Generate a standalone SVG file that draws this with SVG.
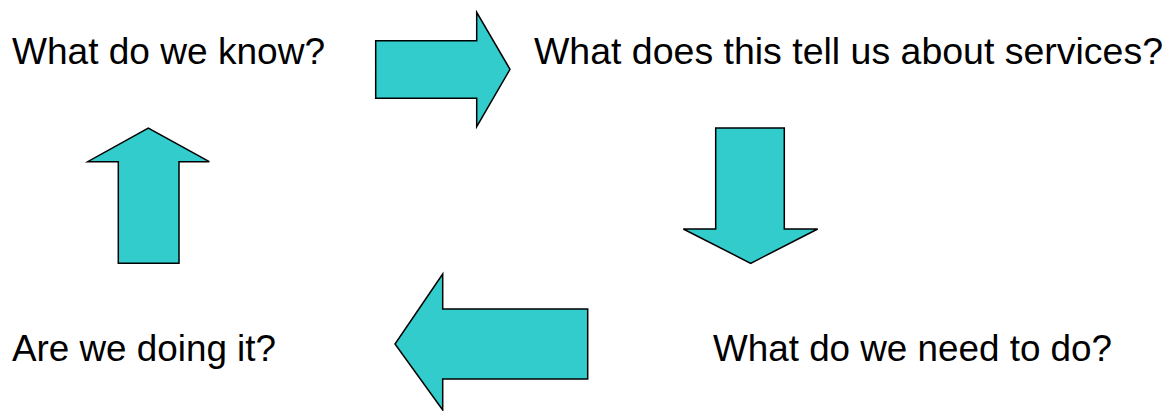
<svg xmlns="http://www.w3.org/2000/svg" width="1173" height="411" viewBox="0 0 1173 411">
<style>
.arrow{fill:#33CCCC;stroke:#000;stroke-width:1.5;stroke-linejoin:miter}
.lbl{font-family:"Liberation Sans",Arial,sans-serif;font-size:36px;fill:#000}
</style>
<rect width="1173" height="411" fill="#fff"/>
<g id="connectors">
<polygon id="arrow-right" class="arrow" points="375.7,40.7 476.7,40.7 476.7,12.3 510,69.3 476.7,126.7 476.7,98.3 375.7,98.3"/>
<polygon id="arrow-down" class="arrow" points="715.7,128 784.3,128 784.3,229 817.7,229 750.7,263.3 683.3,229 715.7,229"/>
<polygon id="arrow-left" class="arrow" points="587.7,309 442.7,309 442.7,274 395,344 442.7,410 442.7,379 587.7,379"/>
<polygon id="arrow-up" class="arrow" points="118.3,263.3 179,263.3 179,161.7 209.3,161.7 148.3,128 87.7,161.7 118.3,161.7"/>
</g>
<g id="node-know"><text class="lbl" x="12" y="64" textLength="313" lengthAdjust="spacingAndGlyphs">What do we know?</text></g>
<g id="node-services"><text class="lbl" x="534" y="64" textLength="629" lengthAdjust="spacingAndGlyphs">What does this tell us about services?</text></g>
<g id="node-need"><text class="lbl" x="713" y="361" textLength="399" lengthAdjust="spacingAndGlyphs">What do we need to do?</text></g>
<g id="node-doing"><text class="lbl" x="12" y="361" textLength="264" lengthAdjust="spacingAndGlyphs">Are we doing it?</text></g>
</svg>
